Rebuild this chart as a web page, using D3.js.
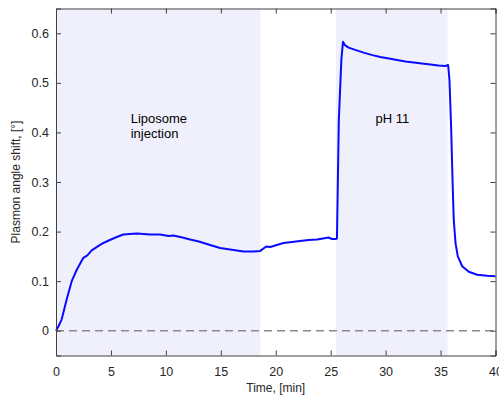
<!DOCTYPE html>
<html><head><meta charset="utf-8">
<script src="https://cdn.jsdelivr.net/npm/d3@7"></script>
<style>body{margin:0;background:#fff}svg{display:block}</style>
</head><body><div id="c"></div>
<script>
const time = [0, 0.25, 0.52, 0.97, 1.43, 1.89, 2.49, 2.85, 3.25, 3.8, 4.31, 4.9, 5.53, 6.13, 6.7, 7.35, 8.0, 8.56, 9.48, 10.23, 10.69, 11.5, 12.21, 13.0, 13.73, 14.94, 15.85, 17.07, 18.0, 18.59, 19.13, 19.5, 20.1, 20.7, 21.5, 22.2, 23.0, 23.75, 24.3, 24.8, 25.12, 25.5, 25.57, 25.74, 25.97, 26.12, 26.3, 26.63, 27.3, 28.0, 28.8, 29.52, 30.3, 31.04, 31.8, 32.56, 33.3, 34.08, 34.8, 35.44, 35.69, 35.81, 35.96, 36.08, 36.2, 36.36, 36.57, 36.97, 37.57, 38.33, 39.24, 40];
const shift = [0, 0.010, 0.023, 0.063, 0.100, 0.123, 0.147, 0.152, 0.162, 0.170, 0.177, 0.183, 0.189, 0.194, 0.195, 0.196, 0.195, 0.194, 0.194, 0.191, 0.192, 0.188, 0.184, 0.180, 0.175, 0.167, 0.164, 0.160, 0.160, 0.161, 0.170, 0.169, 0.173, 0.177, 0.179, 0.181, 0.183, 0.184, 0.186, 0.188, 0.185, 0.185, 0.186, 0.425, 0.546, 0.583, 0.576, 0.571, 0.566, 0.561, 0.556, 0.552, 0.549, 0.546, 0.543, 0.541, 0.539, 0.537, 0.535, 0.534, 0.536, 0.506, 0.412, 0.311, 0.224, 0.177, 0.150, 0.130, 0.119, 0.113, 0.111, 0.110];
const shaded = [[0, 18.6], [25.47, 35.64]];
const xTicks = [0, 5, 10, 15, 20, 25, 30, 35, 40];
const yTicks = [0, 0.1, 0.2, 0.3, 0.4, 0.5, 0.6];
const annotations = [{t: 6.8, v: 0.42, lines: ["Liposome", "injection"]}, {t: 29.07, v: 0.42, lines: ["pH 11"]}];
const xLabel = "Time, [min]";
const yLabel = "Plasmon angle shift, [°]";

const W = 499, H = 399;
const L = 56, R = 495.5, T = 8.5, B = 355.5;
const svg = d3.select("#c").append("svg").attr("width", W).attr("height", H)
  .style("font-family", "'Liberation Sans', Arial, sans-serif");
const x = d3.scaleLinear().domain([0, 40]).range([L, R]);
const y = d3.scaleLinear().domain([-0.05, 0.65]).range([B, T]);

svg.selectAll("rect.sh").data(shaded).join("rect").attr("class", "sh")
  .attr("x", d => x(d[0])).attr("width", d => x(d[1]) - x(d[0]))
  .attr("y", T).attr("height", B - T).attr("fill", "#f0f0fd");

svg.append("line").attr("x1", x(0)).attr("x2", x(40)).attr("y1", y(0)).attr("y2", y(0))
  .attr("stroke", "#8a8a8a").attr("stroke-width", 1.6).attr("stroke-dasharray", "8,5");

const line = d3.line().x((d, i) => x(time[i])).y(d => y(d));
svg.append("path").datum(shift).attr("d", line).attr("fill", "none")
  .attr("stroke", "#0a0aff").attr("stroke-width", 2).attr("stroke-linejoin", "round");

const ac = "#404040";
const fmtY = d => d === 0 ? "0" : d3.format(".1f")(d);
const gb = svg.append("g").attr("transform", `translate(0,${B})`)
  .call(d3.axisBottom(x).tickValues(xTicks).tickSize(-5).tickPadding(12).tickFormat(d3.format("d")));
const gt = svg.append("g").attr("transform", `translate(0,${T})`)
  .call(d3.axisTop(x).tickValues(xTicks).tickSize(-5).tickFormat(""));
const gl = svg.append("g").attr("transform", `translate(${L},0)`)
  .call(d3.axisLeft(y).tickValues(yTicks).tickSize(-5).tickPadding(7).tickFormat(fmtY));
const gr = svg.append("g").attr("transform", `translate(${R},0)`)
  .call(d3.axisRight(y).tickValues(yTicks).tickSize(-5).tickFormat(""));
[gb, gt, gl, gr].forEach(g => {
  g.select(".domain").attr("stroke", ac);
  g.selectAll(".tick line").attr("stroke", ac);
  g.selectAll("text").attr("fill", "#262626").style("font-size", "12.5px")
    .style("font-family", "'Liberation Sans', Arial, sans-serif");
});

annotations.forEach(a => {
  const t = svg.append("text").attr("x", x(a.t)).attr("y", y(a.v)).attr("fill", "#000")
    .style("font-size", "13px");
  a.lines.forEach((s, i) => t.append("tspan").attr("x", x(a.t)).attr("dy", i === 0 ? 0 : 15).text(s));
});

svg.append("text").attr("x", (L + R) / 2).attr("y", 392).attr("text-anchor", "middle")
  .attr("fill", "#262626").style("font-size", "12px").text(xLabel);
svg.append("text").attr("transform", `translate(20,${(T + B) / 2}) rotate(-90)`)
  .attr("text-anchor", "middle").attr("fill", "#262626").style("font-size", "12px").text(yLabel);
</script></body></html>
